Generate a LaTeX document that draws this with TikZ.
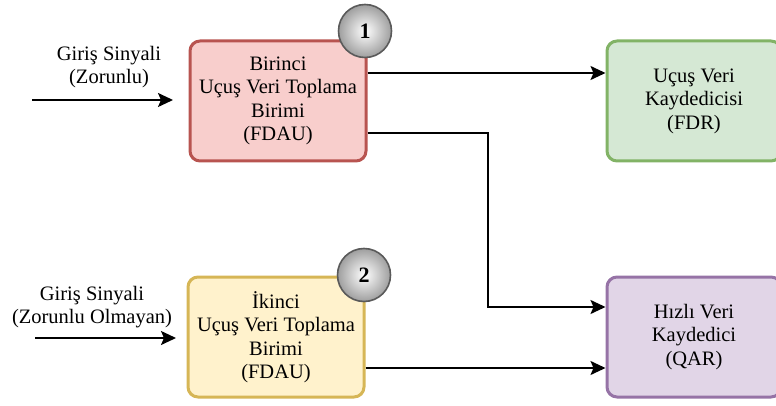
\documentclass[tikz,border=0pt]{standalone}
\usepackage{fontspec}
\setmainfont{Liberation Serif}
\usetikzlibrary{arrows.meta,positioning}

\definecolor{fdauFill}{HTML}{F8CECC}\definecolor{fdauLine}{HTML}{B85450}
\definecolor{fdauBFill}{HTML}{FFF2CC}\definecolor{fdauBLine}{HTML}{D6B656}
\definecolor{fdrFill}{HTML}{D5E8D4}\definecolor{fdrLine}{HTML}{82B366}
\definecolor{qarFill}{HTML}{E1D5E7}\definecolor{qarLine}{HTML}{9673A6}
\definecolor{badgeLine}{HTML}{5A5A5A}

\tikzset{
  unitbox/.style={draw, line width=3pt, rounded corners=10pt,
    minimum width=174pt, minimum height=120pt, align=center,
    font=\fontsize{20.5}{23.5}\selectfont, text=black},
  badge/.style={circle, draw=badgeLine, line width=1.6pt, minimum size=53pt,
    inner sep=0pt, shading=radial, inner color=white, outer color=black!38,
    font=\fontsize{22}{24}\selectfont\bfseries},
  sig/.style={-{Stealth[length=15pt,width=14pt,inset=3pt]}, line width=1.8pt},
  caption/.style={align=center, font=\fontsize{20.5}{23.5}\selectfont, text=black}
}

\begin{document}
\begin{tikzpicture}[x=1pt,y=-1pt]
  \useasboundingbox (0,0) rectangle (776,406);

  % recorder and acquisition units
  \node[unitbox, fill=fdauFill, draw=fdauLine, minimum width=176pt] (fdau1) at (278,101)
    {Birinci\\Uçuş Veri Toplama\\Birimi\\(FDAU)};
  \node[unitbox, fill=fdauBFill, draw=fdauBLine, minimum width=176pt] (fdau2) at (276,337)
    {İkinci\\Uçuş Veri Toplama\\Birimi\\(FDAU)};
  \node[unitbox, fill=fdrFill, draw=fdrLine] (fdr) at (694,101)
    {Uçuş Veri\\Kaydedicisi\\(FDR)};
  \node[unitbox, fill=qarFill, draw=qarLine] (qar) at (694,337)
    {Hızlı Veri\\Kaydedici\\(QAR)};

  % numbered badges
  \node[badge] (b1) at (365,31) {1};
  \node[badge] (b2) at (364,275) {2};

  % input signals
  \coordinate (in1) at (32,100);
  \coordinate (t1) at (173,100);
  \coordinate (in2) at (35,338);
  \coordinate (t2) at (176,338);
  \draw[sig] (in1) -- (t1);
  \node[caption] (c1) at (109,67) {Giriş Sinyali\\(Zorunlu)};
  \draw[sig] (in2) -- (t2);
  \node[caption] (c2) at (92,307) {Giriş Sinyali\\(Zorunlu Olmayan)};

  % data paths
  \draw[sig] (fdau1.east |- 0,73) -- (fdr.west |- 0,73);
  \draw[sig] (fdau1.east |- 0,133) -- (488,133) |- (qar.west |- 0,307);
  \draw[sig] (fdau2.east |- 0,368) -- (qar.west |- 0,368);
\end{tikzpicture}
\end{document}
